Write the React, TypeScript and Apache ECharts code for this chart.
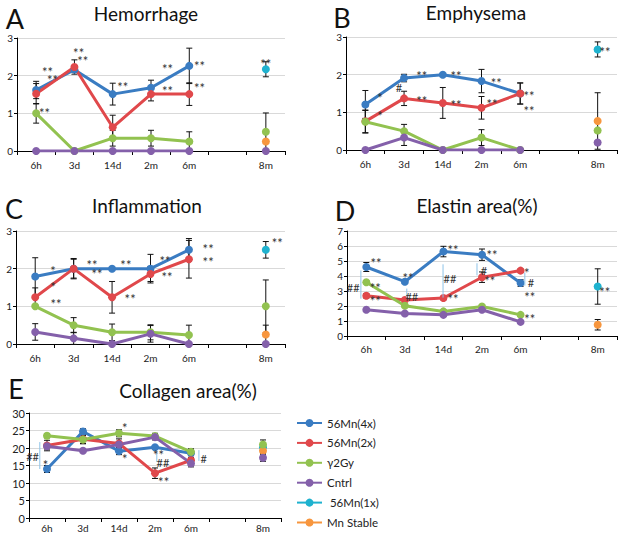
import { useEffect, useRef } from 'react';
import * as echarts from 'echarts';

const categories = ['6h', '3d', '14d', '2m', '6m', '', '8m'];
const seriesNames = ['56Mn(4x)', '56Mn(2x)', 'γ2Gy', 'Cntrl', ' 56Mn(1x)', 'Mn Stable'];
const colors = ['#3A7CC2', '#E0484B', '#92C250', '#8460AA', '#1FB2CF', '#F7963E'];
// order of the single 8m points: 56Mn(1x), Mn Stable, γ2Gy, Cntrl
const m8Order = [4, 5, 2, 3];

// A Hemorrhage
const hemBlue = [1.62, 2.16, 1.51, 1.68, 2.26];
const hemBlueErr = [0.23, 0.06, 0.29, 0.2, 0.47];
const hemRed = [1.52, 2.23, 0.63, 1.51, 1.51];
const hemRedErr = [0.27, 0.19, 0.32, 0.18, 0.3];
const hemGreen = [1.0, 0, 0.34, 0.34, 0.25];
const hemGreenErr = [0.26, 0, 0.21, 0.21, 0.26];
const hemPurple = [0, 0, 0, 0, 0];
const hemPurpleErr = [0, 0, 0, 0, 0];
const hem8m = [2.17, 0.25, 0.51, 0];
const hem8mErr = [0.2, 0, 0.5, 0];
const hemNotes: [number, number, string][] = [
  [0.3, 2.18, '**'], [0.43, 1.97, '**'], [1.11, 2.69, '**'], [1.22, 2.48, '**'], [0.22, 1.09, '**'],
  [2.26, 1.78, '**'], [3.43, 2.26, '**'], [3.43, 1.68, '**'], [4.27, 2.34, '**'], [4.27, 1.76, '**'], [6.0, 2.4, '**'],
];

// B Emphysema
const empBlue = [1.21, 1.91, 2.0, 1.83, 1.5];
const empBlueErr = [0.37, 0.1, 0, 0.31, 0.28];
const empRed = [0.76, 1.37, 1.25, 1.12, 1.5];
const empRedErr = [0.3, 0.19, 0.41, 0.3, 0.28];
const empGreen = [0.75, 0.5, 0, 0.33, 0];
const empGreenErr = [0.3, 0.18, 0, 0.21, 0];
const empPurple = [0, 0.33, 0, 0, 0];
const empPurpleErr = [0, 0.21, 0, 0, 0];
const emp8m = [2.67, 0.77, 0.52, 0.2];
const emp8mErr = [0.2, 0.75, 0, 0];
const empNotes: [number, number, string][] = [
  [0.38, 1.46, '*'], [0.38, 0.98, '*'], [0.87, 1.67, '#'], [1.46, 2.04, '**'], [1.46, 1.38, '**'],
  [2.34, 2.04, '**'], [2.34, 1.27, '**'], [3.38, 1.85, '**'], [3.27, 1.3, '**'], [4.23, 1.51, '**'],
  [4.23, 1.11, '**'], [6.19, 2.67, '**'],
];

// C Inflammation
const infBlue = [1.79, 2.0, 2.0, 2.0, 2.5];
const infBlueErr = [0.5, 0.27, 0, 0.38, 0.3];
const infRed = [1.24, 2.0, 1.24, 1.86, 2.25];
const infRedErr = [0.25, 0.25, 0.42, 0.2, 0.5];
const infGreen = [1.0, 0.5, 0.31, 0.31, 0.24];
const infGreenErr = [0, 0.2, 0.22, 0.2, 0.26];
const infPurple = [0.32, 0.15, 0, 0.27, 0];
const infPurpleErr = [0.22, 0.16, 0, 0.22, 0];
const inf8m = [2.5, 0.25, 1.0, 0];
const inf8mErr = [0.22, 0.25, 0.7, 0];
const infNotes: [number, number, string][] = [
  [0.46, 2.02, '*'], [0.46, 1.59, '*'], [0.54, 1.14, '**'], [1.48, 2.18, '**'], [1.61, 1.94, '**'],
  [2.36, 2.18, '**'], [2.47, 1.27, '**'], [3.38, 2.28, '**'], [3.43, 1.86, '**'], [4.5, 2.6, '**'],
  [4.5, 2.26, '**'], [6.3, 2.76, '**'],
];

// D Elastin area(%)
const elaBlue = [4.6, 3.62, 5.63, 5.42, 3.53];
const elaBlueErr = [0.3, 0.12, 0.35, 0.38, 0.22];
const elaRed = [2.68, 2.4, 2.53, 3.92, 4.36];
const elaRedErr = [0.15, 0.1, 0.12, 0.35, 0.1];
const elaGreen = [3.58, 2.02, 1.64, 1.97, 1.41];
const elaGreenErr = [0.1, 0.1, 0.1, 0.12, 0.1];
const elaPurple = [1.75, 1.5, 1.41, 1.75, 0.94];
const elaPurpleErr = [0.08, 0.08, 0.08, 0.08, 0.08];
const ela8m = [3.3, 0.75, null, null];
const ela8mErr = [1.18, 0.35, 0, 0];
const elaNotes: [number, number, string][] = [
  [0.25, 5.05, '**'], [0.23, 3.43, '**'], [0.23, 2.56, '**'], [-0.34, 3.23, '##'], [1.08, 4.1, '**'],
  [1.18, 2.62, '##'], [2.25, 5.92, '**'], [2.17, 3.84, '##'], [2.25, 2.69, '**'], [3.26, 5.59, '**'],
  [3.05, 4.37, '#'], [3.2, 3.9, '**'], [4.16, 4.37, '*'], [4.27, 3.57, '#'], [4.24, 2.83, '**'],
  [4.24, 1.35, '**'], [6.18, 3.16, '**'],
];
const elaBrackets: [number, number, number][] = [
  [-0.14, 2.49, 4.37], [1.05, 2.56, 3.16], [1.99, 2.56, 4.78], [2.87, 4.04, 4.85], [4.11, 3.36, 4.24],
];

// E Collagen area(%)
const colBlue = [14.0, 24.7, 19.1, 20.2, 18.5];
const colBlueErr = [1.0, 0.8, 1.0, 0.5, 1.2];
const colRed = [20.7, 22.5, 21.3, 12.8, 16.5];
const colRedErr = [1.5, 1.2, 1.3, 1.5, 1.3];
const colGreen = [23.5, 22.4, 24.2, 23.4, 18.9];
const colGreenErr = [0.6, 1.2, 1.0, 0.8, 0.8];
const colPurple = [20.5, 19.2, 21.0, 23.1, 15.6];
const colPurpleErr = [0.8, 0.5, 0.8, 0.8, 1.0];
const col8m = [20.2, 19.2, 21.0, 17.2];
const col8mErr = [0.8, 0.8, 1.3, 1.0];
const colNotes: [number, number, string][] = [
  [2.16, 26.6, '*'], [2.16, 17.7, '*'], [-0.04, 16.0, '*'], [-0.4, 17.7, '##'], [3.1, 18.9, '**'],
  [3.22, 15.9, '##'], [3.24, 11.1, '**'], [4.35, 17.1, '#'],
];
const colBrackets: [number, number, number][] = [
  [-0.2, 14.0, 21.7], [3.05, 16.0, 18.9], [4.22, 16.3, 19.4],
];

const FONT = 'Lato, "Open Sans", sans-serif';

const panels = [
  {
    title: 'Hemorrhage', letter: 'A', grid: { left: 17, top: 38, width: 268, height: 113 }, max: 3, interval: 1,
    tx: 146, ty: 13, lx: 15, ly: 18, xMargin: 9,
    lines: [hemBlue, hemRed, hemGreen, hemPurple], errs: [hemBlueErr, hemRedErr, hemGreenErr, hemPurpleErr],
    m8: hem8m, m8Err: hem8mErr, notes: hemNotes, brackets: [] as [number, number, number][],
  },
  {
    title: 'Emphysema', letter: 'B', grid: { left: 346, top: 37, width: 271, height: 113 }, max: 3, interval: 1,
    tx: 476, ty: 12, lx: 342, ly: 17, xMargin: 9,
    lines: [empBlue, empRed, empGreen, empPurple], errs: [empBlueErr, empRedErr, empGreenErr, empPurpleErr],
    m8: emp8m, m8Err: emp8mErr, notes: empNotes, brackets: [] as [number, number, number][],
  },
  {
    title: 'Inflammation', letter: 'C', grid: { left: 16, top: 231, width: 269, height: 113 }, max: 3, interval: 1,
    tx: 147, ty: 205, lx: 14, ly: 208, xMargin: 9,
    lines: [infBlue, infRed, infGreen, infPurple], errs: [infBlueErr, infRedErr, infGreenErr, infPurpleErr],
    m8: inf8m, m8Err: inf8mErr, notes: infNotes, brackets: [] as [number, number, number][],
  },
  {
    title: 'Elastin area(%)', letter: 'D', grid: { left: 347, top: 231, width: 270, height: 105 }, max: 7, interval: 1,
    tx: 477, ty: 205, lx: 345, ly: 210, xMargin: 8,
    lines: [elaBlue, elaRed, elaGreen, elaPurple], errs: [elaBlueErr, elaRedErr, elaGreenErr, elaPurpleErr],
    m8: ela8m, m8Err: ela8mErr, notes: elaNotes, brackets: elaBrackets,
  },
  {
    title: 'Collagen area(%)', letter: 'E', grid: { left: 29, top: 413, width: 252, height: 105 }, max: 30, interval: 5,
    tx: 188, ty: 390, lx: 16, ly: 388, xMargin: 5,
    lines: [colBlue, colRed, colGreen, colPurple], errs: [colBlueErr, colRedErr, colGreenErr, colPurpleErr],
    m8: col8m, m8Err: col8mErr, notes: colNotes, brackets: colBrackets,
  },
];

function buildOption() {
  const grids: any[] = [];
  const xAxes: any[] = [];
  const yAxes: any[] = [];
  const series: any[] = [];
  const graphics: any[] = [];

  panels.forEach((p, pi) => {
    grids.push({ ...p.grid, containLabel: false });
    xAxes.push({
      type: 'category', gridIndex: pi, data: categories, boundaryGap: true,
      axisLine: { lineStyle: { color: '#000', width: 1 } },
      axisTick: { show: true, length: 4, lineStyle: { color: '#000' } },
      axisLabel: { interval: 0, fontSize: 10, color: '#222', margin: p.xMargin, fontFamily: FONT },
      splitLine: { show: false },
    });
    yAxes.push({
      type: 'value', gridIndex: pi, min: 0, max: p.max, interval: p.interval,
      axisLine: { show: true, lineStyle: { color: '#000', width: 1 } },
      axisTick: { show: true, length: 3, lineStyle: { color: '#000' } },
      axisLabel: { fontSize: p.max === 30 ? 11 : 10, color: '#222', margin: 4, fontFamily: FONT },
      splitLine: { show: true, lineStyle: { color: '#D9D9D9', width: 1 } },
    });

    const errData: number[][] = [];
    p.lines.forEach((vals, si) => {
      const data: (number | null)[] = categories.map((_, i) => (i < vals.length ? vals[i] : null));
      series.push({
        type: 'line', name: seriesNames[si], xAxisIndex: pi, yAxisIndex: pi, data,
        color: colors[si], lineStyle: { width: 3, color: colors[si] },
        itemStyle: { color: colors[si] }, symbol: 'circle', symbolSize: 8, showSymbol: true,
        connectNulls: false, z: 3,
      });
      vals.forEach((v, i) => {
        const e = p.errs[si][i];
        if (e > 0) errData.push([i, v - e, v + e]);
      });
    });
    p.m8.forEach((v, k) => {
      if (v === null || v === undefined) return;
      const ci = m8Order[k];
      const data: (number | null)[] = categories.map((_, i) => (i === 6 ? v : null));
      series.push({
        type: 'line', name: seriesNames[ci], xAxisIndex: pi, yAxisIndex: pi, data,
        color: colors[ci], lineStyle: { width: 3, color: colors[ci] },
        itemStyle: { color: colors[ci] }, symbol: 'circle', symbolSize: 8, z: 3,
      });
      const e = p.m8Err[k];
      if (e > 0) errData.push([6, v - e, v + e]);
    });

    series.push({
      type: 'custom', xAxisIndex: pi, yAxisIndex: pi, data: errData, z: 1, silent: true,
      renderItem: (params: any, api: any) => {
        const x = api.value(0);
        const lo = api.coord([x, api.value(1)]);
        const hi = api.coord([x, api.value(2)]);
        const w = 3;
        const st = { stroke: '#111', lineWidth: 1 };
        return {
          type: 'group',
          children: [
            { type: 'line', shape: { x1: lo[0], y1: lo[1], x2: hi[0], y2: hi[1] }, style: st },
            { type: 'line', shape: { x1: hi[0] - w, y1: hi[1], x2: hi[0] + w, y2: hi[1] }, style: st },
            { type: 'line', shape: { x1: lo[0] - w, y1: lo[1], x2: lo[0] + w, y2: lo[1] }, style: st },
          ],
        };
      },
    });

    const notes = p.notes;
    series.push({
      type: 'custom', xAxisIndex: pi, yAxisIndex: pi, z: 5, silent: true, clip: false,
      data: notes.map((n) => [Math.round(n[0]), n[1]]),
      renderItem: (params: any, api: any) => {
        const n = notes[params.dataIndex];
        const base = Math.round(n[0]);
        const pt = api.coord([base, n[1]]);
        const bw = api.size([1, 0])[0];
        const isStar = n[2].indexOf('*') >= 0;
        return {
          type: 'text',
          x: pt[0] + (n[0] - base) * bw,
          y: pt[1] + (isStar ? 3 : 0),
          style: {
            text: n[2], fill: '#333', fontSize: isStar ? 13 : 11, fontFamily: FONT,
            align: 'center', verticalAlign: 'middle', textAlign: 'center', textVerticalAlign: 'middle',
          },
        };
      },
    });

    const br = p.brackets;
    if (br.length) {
      series.push({
        type: 'custom', xAxisIndex: pi, yAxisIndex: pi, z: 4, silent: true, clip: false,
        data: br.map((b) => [Math.round(b[0]), b[1], b[2]]),
        renderItem: (params: any, api: any) => {
          const b = br[params.dataIndex];
          const base = Math.round(b[0]);
          const bw = api.size([1, 0])[0];
          const a1 = api.coord([base, b[1]]);
          const a2 = api.coord([base, b[2]]);
          const x = a1[0] + (b[0] - base) * bw;
          return {
            type: 'line', shape: { x1: x, y1: a1[1], x2: x, y2: a2[1] },
            style: { stroke: '#8EC3E8', lineWidth: 1 },
          };
        },
      });
    }

    graphics.push({
      type: 'text', x: p.tx, y: p.ty,
      style: { text: p.title, font: `19px ${FONT}`, fill: '#111', textAlign: 'center', textVerticalAlign: 'middle' },
    });
    graphics.push({
      type: 'text', x: p.lx, y: p.ly,
      style: { text: p.letter, font: `27px ${FONT}`, fill: '#111', textAlign: 'center', textVerticalAlign: 'middle' },
    });
  });

  return {
    animation: false,
    backgroundColor: '#ffffff',
    textStyle: { fontFamily: FONT },
    grid: grids,
    xAxis: xAxes,
    yAxis: yAxes,
    series,
    graphic: graphics,
    legend: {
      data: seriesNames, orient: 'vertical', left: 296, top: 417, padding: 0,
      width: 120, height: 119,
      itemWidth: 25, itemHeight: 10, itemGap: 7.9,
      textStyle: { fontSize: 11.5, color: '#222', fontFamily: FONT },
      selectedMode: false,
    },
  };
}

export default function App() {
  const ref = useRef<HTMLDivElement>(null);
  useEffect(() => {
    if (!ref.current) return;
    const chart = echarts.init(ref.current, undefined, { renderer: 'svg' });
    chart.setOption(buildOption() as any);
    return () => chart.dispose();
  }, []);
  return (
    <div
      ref={ref}
      style={{ position: 'fixed', left: 0, top: 0, width: 620, height: 536, background: '#fff' }}
    />
  );
}
